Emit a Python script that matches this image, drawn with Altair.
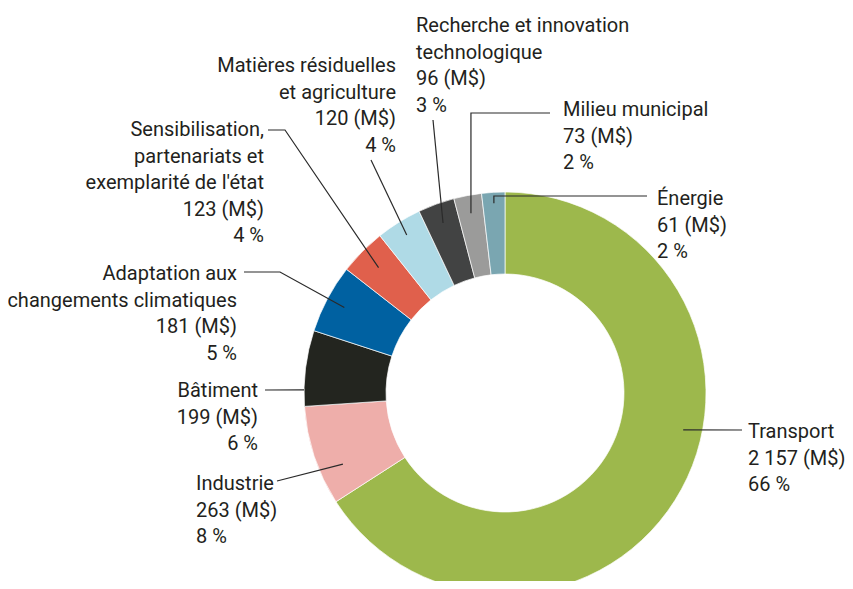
import math
import altair as alt
import pandas as pd

# ---------------- data ----------------
categories = [
    "Transport",
    "Industrie",
    "Bâtiment",
    "Adaptation aux changements climatiques",
    "Sensibilisation, partenariats et exemplarité de l'état",
    "Matières résiduelles et agriculture",
    "Recherche et innovation technologique",
    "Milieu municipal",
    "Énergie",
]
amounts = [2157, 263, 199, 181, 123, 120, 96, 73, 61]
percents = [66, 8, 6, 5, 4, 4, 3, 2, 2]
name_lines = [
    ["Transport"],
    ["Industrie"],
    ["Bâtiment"],
    ["Adaptation aux", "changements climatiques"],
    ["Sensibilisation,", "partenariats et", "exemplarité de l'état"],
    ["Matières résiduelles", "et agriculture"],
    ["Recherche et innovation", "technologique"],
    ["Milieu municipal"],
    ["Énergie"],
]
colors = ["#9db84c", "#eeaeaa", "#23251f", "#0061a1", "#e0604c",
          "#afdae6", "#424343", "#9b9b9a", "#7aa6b1"]

# ---------------- layout (image pixel coordinates) ----------------
CX, CY = 505, 393
R_OUT, R_IN = 201, 119
FONT = "Roboto"
FS = 20
LH = 26.5
TEXT_COLOR = "#231f20"

layout = {
    "Transport": dict(tx=748, ty=438, align="left", start=(742, 430), elbow=None, angle=101.7, r=182),
    "Industrie": dict(tx=196, ty=490, align="left", start=(277, 481), elbow=None, angle=246.3, r=177),
    "Bâtiment": dict(tx=258, ty=397, align="right", start=(265, 390), elbow=None, angle=270.9, r=201),
    "Adaptation aux changements climatiques": dict(tx=237, ty=280, align="right", start=(244, 272), elbow=(280, 272), angle=None, r=182),
    "Sensibilisation, partenariats et exemplarité de l'état": dict(tx=264, ty=136, align="right", start=(268, 130), elbow=(285, 130), angle=None, r=178),
    "Matières résiduelles et agriculture": dict(tx=396, ty=72, align="right", start=(371, 160), elbow=None, angle=None, r=186),
    "Recherche et innovation technologique": dict(tx=416, ty=32, align="left", start=(433, 120), elbow=None, angle=None, r=181),
    "Milieu municipal": dict(tx=563, ty=116, align="left", start=(550, 113), elbow="vertical", angle=None, r=183),
    "Énergie": dict(tx=657, ty=205, align="left", start=(647, 196), elbow="vertical", angle=None, r=190),
}

total = sum(amounts)
slices = pd.DataFrame({"cat": categories, "amount": amounts, "order": range(len(categories))})

# label texts and leader lines
label_rows = []
line_rows = []
cum = 0
for cat, amt, pct, lines in zip(categories, amounts, percents, name_lines):
    mid = (cum + amt / 2) / total * 360
    cum += amt
    lay = layout[cat]
    amt_txt = f"{amt:,}".replace(",", " ") + " (M$)"
    text = "\n".join(lines + [amt_txt, f"{pct} %"])
    label_rows.append(dict(cat=cat, text=text, x=lay["tx"], y=lay["ty"], align=lay["align"]))
    ang = lay["angle"] if lay["angle"] is not None else mid
    ex = CX + lay["r"] * math.sin(math.radians(ang))
    ey = CY - lay["r"] * math.cos(math.radians(ang))
    pts = [lay["start"]]
    if lay["elbow"] == "vertical":
        pts.append((ex, lay["start"][1]))
    elif lay["elbow"] is not None:
        pts.append(lay["elbow"])
    pts.append((ex, ey))
    for i, (px, py) in enumerate(pts):
        line_rows.append(dict(cat=cat, seq=i, x=px, y=py))

labels = pd.DataFrame(label_rows)
leaders = pd.DataFrame(line_rows)

W, H = 837, 573
xs = alt.Scale(domain=[8, 8 + W], nice=False, zero=False)
ys = alt.Scale(domain=[8, 8 + H], nice=False, zero=False, reverse=True)

donut = alt.Chart(slices).mark_arc(
    outerRadius=R_OUT, innerRadius=R_IN, stroke="white", strokeWidth=0.7
).encode(
    theta=alt.Theta("amount:Q", stack=True),
    order=alt.Order("order:Q"),
    color=alt.Color("cat:N", scale=alt.Scale(domain=categories, range=colors), legend=None),
    x=alt.value(CX - 8),
    y=alt.value(CY - 8),
)

lines_layer = alt.Chart(leaders).mark_line(color="#2a2a2a", strokeWidth=1.2).encode(
    x=alt.X("x:Q", scale=xs, axis=None),
    y=alt.Y("y:Q", scale=ys, axis=None),
    detail="cat:N",
    order="seq:Q",
)

def text_layer(al):
    return alt.Chart(labels).transform_filter(
        alt.datum.align == al
    ).mark_text(
        align=al, baseline="alphabetic", font=FONT, fontSize=FS,
        lineHeight=LH, lineBreak="\n", color=TEXT_COLOR,
    ).encode(
        x=alt.X("x:Q", scale=xs, axis=None),
        y=alt.Y("y:Q", scale=ys, axis=None),
        text="text:N",
    )

chart = alt.layer(donut, lines_layer, text_layer("left"), text_layer("right")).properties(
    width=W, height=H, padding=0, autosize="none"
).configure_view(stroke=None)

chart.save("out.html", embed_options={"renderer": "svg", "actions": False})
